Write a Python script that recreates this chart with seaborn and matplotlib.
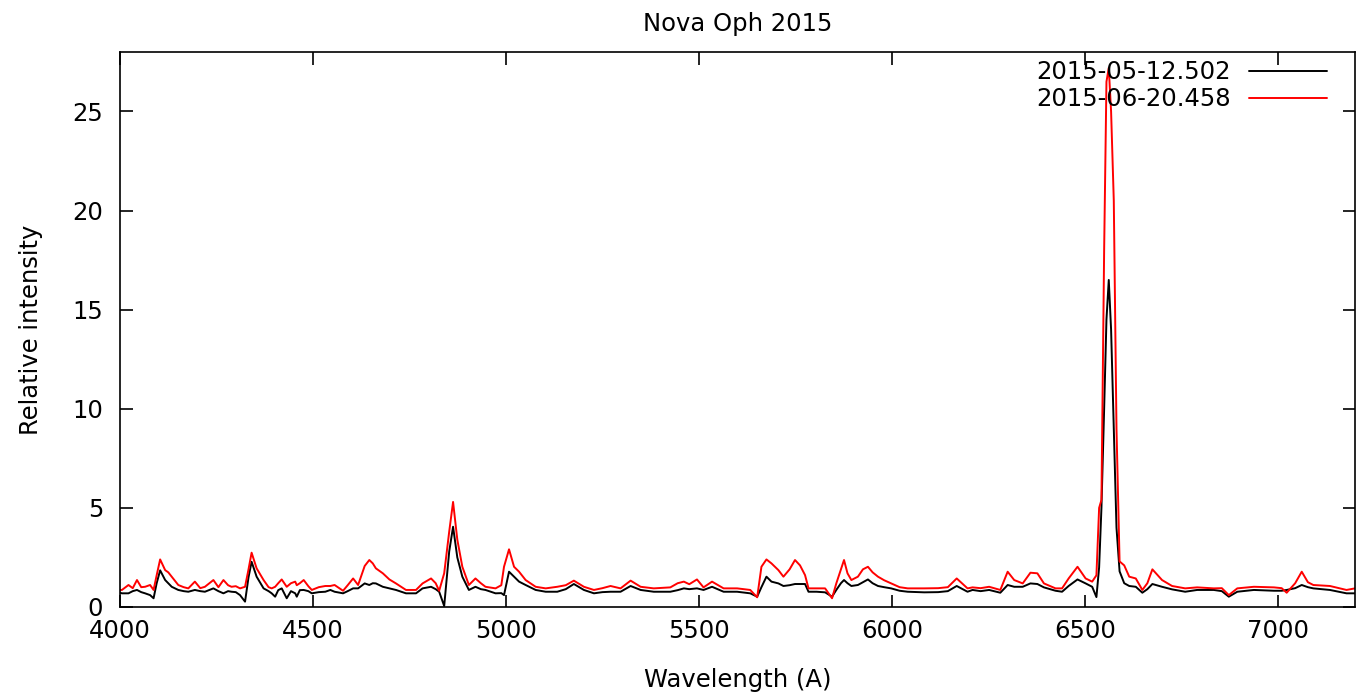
import matplotlib
matplotlib.use("Agg")
import matplotlib.pyplot as plt
from matplotlib.lines import Line2D
import seaborn as sns
import pandas as pd

# Wavelength grid (Angstrom)
wavelength = [4000, 4005, 4022, 4033, 4044, 4055, 4065, 4078, 4087, 4095, 4104, 4117, 4125, 4134, 4151,
              4165, 4177, 4194, 4208, 4220, 4242, 4255, 4268, 4280, 4289, 4300, 4311, 4324, 4333, 4341,
              4354, 4372, 4385, 4393, 4402, 4410, 4419, 4432, 4443, 4454, 4458, 4466, 4476, 4488, 4497,
              4515, 4532, 4545, 4556, 4578, 4590, 4604, 4617, 4634, 4646, 4655, 4663, 4681, 4698, 4715,
              4741, 4767, 4784, 4806, 4818, 4827, 4840, 4853, 4863, 4874, 4887, 4904, 4921, 4935, 4947,
              4973, 4988, 4995, 5008, 5021, 5034, 5051, 5077, 5103, 5133, 5155, 5176, 5202, 5228, 5250,
              5271, 5297, 5323, 5349, 5383, 5426, 5445, 5461, 5475, 5495, 5512, 5534, 5564, 5599, 5633,
              5651, 5662, 5675, 5688, 5706, 5719, 5735, 5749, 5762, 5775, 5784, 5805, 5827, 5845, 5856,
              5868, 5876, 5885, 5895, 5912, 5925, 5938, 5950, 5964, 5980, 5998, 6020, 6041, 6084, 6120,
              6145, 6168, 6196, 6209, 6230, 6252, 6281, 6300, 6317, 6339, 6359, 6377, 6394, 6424, 6441,
              6458, 6481, 6502, 6519, 6530, 6537, 6543, 6550, 6556, 6562, 6568, 6575, 6582, 6590, 6602,
              6615, 6632, 6649, 6662, 6675, 6700, 6726, 6760, 6791, 6834, 6855, 6873, 6895, 6938, 6990,
              7010, 7023, 7045, 7062, 7078, 7092, 7135, 7178, 7200]

# 2015-05-12.502 spectrum (black)
flux_may = [0.72, 0.69, 0.69, 0.80, 0.86, 0.75, 0.69, 0.60, 0.44, 1.20, 1.85, 1.36, 1.20, 1.02, 0.86,
            0.80, 0.77, 0.86, 0.80, 0.77, 0.94, 0.80, 0.69, 0.80, 0.77, 0.75, 0.60, 0.27, 1.50, 2.28,
            1.53, 0.94, 0.80, 0.69, 0.52, 0.85, 0.94, 0.44, 0.80, 0.69, 0.52, 0.85, 0.86, 0.80, 0.69,
            0.75, 0.77, 0.86, 0.77, 0.69, 0.80, 0.94, 0.94, 1.19, 1.11, 1.20, 1.19, 1.02, 0.94, 0.86,
            0.69, 0.69, 0.94, 1.02, 0.90, 0.77, 0.05, 2.80, 4.05, 2.50, 1.53, 0.86, 1.02, 0.90, 0.86,
            0.69, 0.70, 0.60, 1.78, 1.53, 1.28, 1.11, 0.86, 0.77, 0.77, 0.90, 1.16, 0.86, 0.69, 0.75,
            0.77, 0.77, 1.06, 0.86, 0.77, 0.77, 0.85, 0.94, 0.90, 0.94, 0.86, 1.02, 0.77, 0.77, 0.69,
            0.52, 1.00, 1.53, 1.28, 1.19, 1.06, 1.10, 1.16, 1.16, 1.16, 0.77, 0.77, 0.74, 0.52, 0.86,
            1.20, 1.36, 1.20, 1.06, 1.11, 1.25, 1.39, 1.20, 1.06, 1.00, 0.94, 0.82, 0.77, 0.74, 0.75,
            0.80, 1.06, 0.77, 0.86, 0.80, 0.86, 0.72, 1.11, 1.02, 1.02, 1.19, 1.16, 0.99, 0.82, 0.77,
            1.06, 1.39, 1.19, 1.02, 0.50, 2.00, 5.00, 10.0, 14.5, 16.5, 14.0, 9.00, 4.00, 1.80, 1.20,
            1.06, 1.02, 0.72, 0.90, 1.16, 1.02, 0.89, 0.77, 0.86, 0.86, 0.80, 0.52, 0.77, 0.86, 0.82,
            0.82, 0.86, 0.95, 1.11, 1.00, 0.94, 0.86, 0.69, 0.69]

# 2015-06-20.458 spectrum (red)
flux_june = [0.86, 0.86, 1.11, 0.95, 1.36, 1.00, 1.02, 1.11, 0.86, 1.60, 2.40, 1.86, 1.75, 1.53, 1.11,
             1.00, 0.94, 1.28, 0.95, 1.02, 1.36, 1.00, 1.36, 1.10, 1.02, 1.05, 0.94, 1.02, 1.90, 2.74,
             1.95, 1.36, 1.00, 0.94, 1.02, 1.20, 1.39, 1.02, 1.20, 1.28, 1.10, 1.20, 1.36, 1.05, 0.86,
             1.00, 1.06, 1.06, 1.11, 0.82, 1.10, 1.44, 1.11, 2.07, 2.37, 2.20, 1.95, 1.70, 1.39, 1.19,
             0.86, 0.86, 1.19, 1.44, 1.20, 0.82, 1.70, 3.80, 5.30, 3.40, 2.03, 1.11, 1.44, 1.20, 1.02,
             0.94, 1.10, 2.03, 2.91, 2.03, 1.78, 1.36, 1.02, 0.94, 1.02, 1.10, 1.33, 1.02, 0.86, 0.95,
             1.06, 0.94, 1.33, 1.02, 0.94, 0.99, 1.20, 1.28, 1.15, 1.39, 0.99, 1.28, 0.94, 0.94, 0.86,
             0.49, 2.03, 2.40, 2.20, 1.86, 1.53, 1.90, 2.37, 2.10, 1.61, 0.94, 0.94, 0.94, 0.44, 1.19,
             1.90, 2.37, 1.70, 1.36, 1.53, 1.90, 2.03, 1.75, 1.53, 1.35, 1.19, 1.00, 0.94, 0.94, 0.95,
             1.00, 1.44, 0.94, 0.99, 0.95, 1.02, 0.86, 1.78, 1.36, 1.19, 1.73, 1.70, 1.19, 0.94, 0.94,
             1.44, 2.03, 1.44, 1.28, 1.60, 5.00, 5.40, 18.0, 26.5, 27.2, 25.0, 20.5, 9.00, 2.30, 2.10,
             1.53, 1.44, 0.86, 1.20, 1.90, 1.36, 1.06, 0.94, 0.99, 0.94, 0.95, 0.60, 0.94, 1.02, 0.99,
             0.95, 0.72, 1.20, 1.78, 1.25, 1.11, 1.06, 0.86, 0.94]

series_labels = ["2015-05-12.502", "2015-06-20.458"]
series_colors = ["#000000", "#ff0000"]
x_ticks = [4000, 4500, 5000, 5500, 6000, 6500, 7000]
y_ticks = [0, 5, 10, 15, 20, 25]

df = pd.concat([
    pd.DataFrame({"Wavelength": wavelength, "Intensity": flux_may, "Date": series_labels[0]}),
    pd.DataFrame({"Wavelength": wavelength, "Intensity": flux_june, "Date": series_labels[1]}),
], ignore_index=True)

sns.set_theme(style="ticks")
plt.rcParams["font.family"] = ["DejaVu Sans"]
plt.rcParams["text.color"] = "#000000"
plt.rcParams["axes.labelcolor"] = "#000000"

FS = 17.5

fig = plt.figure(figsize=(13.56, 6.92), dpi=100)
ax = fig.add_axes([120 / 1356, 1 - 607 / 692, (1355 - 120) / 1356, (607 - 52) / 692])

sns.lineplot(data=df, x="Wavelength", y="Intensity", hue="Date",
             palette=dict(zip(series_labels, series_colors)), linewidth=1.4,
             ax=ax, sort=False, estimator=None, legend=False)

ax.set_xlim(4000, 7200)
ax.set_ylim(0, 28)
ax.set_xticks(x_ticks)
ax.set_yticks(y_ticks)
ax.tick_params(direction="in", length=9, width=1.2, top=True, right=True,
               labelsize=FS, colors="#000000")
ax.tick_params(axis="x", pad=9)
ax.tick_params(axis="y", pad=12)
for s in ax.spines.values():
    s.set_linewidth(1.2)
    s.set_color("#000000")

ax.set_xlabel("Wavelength (A)", fontsize=FS, labelpad=18, color="#000000")
ax.set_ylabel("Relative intensity", fontsize=FS, labelpad=21, color="#000000")
ax.set_title("Nova Oph 2015", fontsize=FS, pad=15, color="#000000")

handles = [Line2D([], [], color=c, lw=1.4) for c in series_colors]
ax.legend(handles, series_labels, loc="upper right", frameon=False, markerfirst=False,
          fontsize=FS, handlelength=3.2, handletextpad=0.75, labelspacing=0.12,
          borderaxespad=0.0, borderpad=0.0, bbox_to_anchor=(0.977, 0.985))

fig.savefig("out.png", dpi=100)
